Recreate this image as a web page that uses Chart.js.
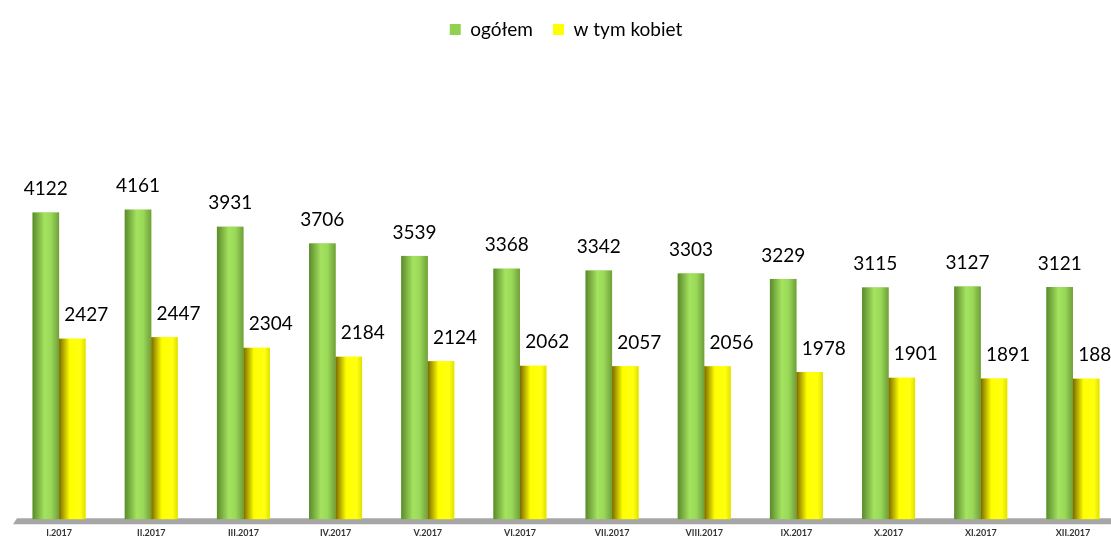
<!DOCTYPE html>
<html>
<head>
<meta charset="utf-8">
<script src="https://cdn.jsdelivr.net/npm/chart.js@4"></script>
<style>
  html, body { margin: 0; padding: 0; overflow: hidden; background: #fff; }
  #wrap { width: 1125px; height: 539px; }
</style>
</head>
<body>
<div id="wrap"><canvas id="chart"></canvas></div>
<script>
// data
const months = ['I.2017', 'II.2017', 'III.2017', 'IV.2017', 'V.2017', 'VI.2017',
  'VII.2017', 'VIII.2017', 'IX.2017', 'X.2017', 'XI.2017', 'XII.2017'];
const ogolem = [4122, 4161, 3931, 3706, 3539, 3368, 3342, 3303, 3229, 3115, 3127, 3121];
const kobiety = [2427, 2447, 2304, 2184, 2124, 2062, 2057, 2056, 1978, 1901, 1891, 1889];

// shade bars like cylinders + gray floor + value labels
const barLook = {
  id: 'barLook',
  beforeDatasetsDraw(chart) {
    const ctx = chart.ctx;
    const area = chart.chartArea;
    ctx.save();
    ctx.fillStyle = '#a6a6a6';
    ctx.beginPath();
    ctx.moveTo(area.left, area.bottom + 5);
    ctx.lineTo(area.left + 4, area.bottom - 1);
    ctx.lineTo(area.right + 10, area.bottom - 1);
    ctx.lineTo(area.right + 10, area.bottom + 5);
    ctx.closePath();
    ctx.fill();
    ctx.restore();
  },
  afterDatasetsDraw(chart) {
    const ctx = chart.ctx;
    const stops = [
      [[0, '#5b8a2c'], [0.45, '#a4e35f'], [0.7, '#9ad858'], [1, '#6f9f3a']],
      [[0, '#7a6a00'], [0.4, '#ffff00'], [0.8, '#ffff10'], [1, '#e0e000']]
    ];
    chart.data.datasets.forEach((ds, di) => {
      const meta = chart.getDatasetMeta(di);
      meta.data.forEach((bar, i) => {
        const left = bar.x - bar.width / 2;
        const g = ctx.createLinearGradient(left, 0, left + bar.width, 0);
        stops[di].forEach(s => g.addColorStop(s[0], s[1]));
        ctx.save();
        ctx.fillStyle = g;
        ctx.fillRect(left, bar.y, bar.width, bar.base - bar.y);
        ctx.font = '19px Lato, "Open Sans", sans-serif';
        ctx.fillStyle = '#000';
        ctx.textAlign = 'center';
        ctx.textBaseline = 'bottom';
        const dx = di === 1 ? 14 : 0;
        ctx.fillText(String(ds.data[i]), bar.x + dx, bar.y - 14);
        ctx.restore();
      });
    });
  }
};

new Chart(document.getElementById('chart'), {
  type: 'bar',
  data: {
    labels: months,
    datasets: [
      { label: 'ogółem', data: ogolem, backgroundColor: '#92d050' },
      { label: 'w tym kobiet', data: kobiety, backgroundColor: '#ffff00' }
    ]
  },
  options: {
    responsive: true,
    maintainAspectRatio: false,
    animation: false,
    categoryPercentage: 0.575,
    barPercentage: 1,
    layout: { padding: { left: 13, right: 6, top: 0, bottom: 1 } },
    plugins: {
      legend: {
        position: 'top',
        labels: {
          boxWidth: 11,
          boxHeight: 11,
          color: '#000',
          padding: 20,
          font: { size: 19, family: 'Lato, "Open Sans", sans-serif' }
        }
      },
      tooltip: { enabled: false }
    },
    scales: {
      x: {
        grid: { display: false },
        border: { display: false },
        ticks: {
          color: '#333',
          padding: 0,
          maxRotation: 0,
          font: { size: 9, weight: 'bold', family: 'Lato, sans-serif' }
        }
      },
      y: {
        display: false,
        min: 0,
        max: 6320
      }
    }
  },
  plugins: [barLook]
});
</script>
</body>
</html>
